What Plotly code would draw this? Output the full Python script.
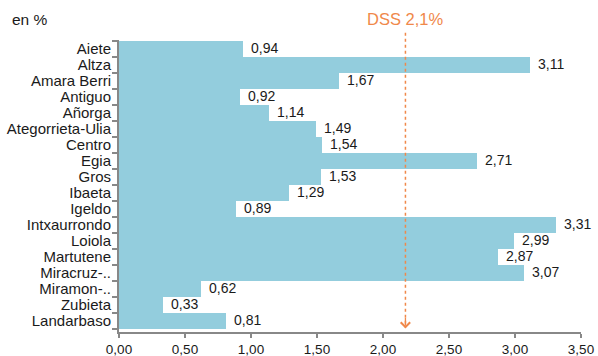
import plotly.graph_objects as go

# barrios and their values (en %)
barrios = ["Aiete", "Altza", "Amara Berri", "Antiguo", "Añorga", "Ategorrieta-Ulia",
           "Centro", "Egia", "Gros", "Ibaeta", "Igeldo", "Intxaurrondo", "Loiola",
           "Martutene", "Miracruz-..", "Miramon-..", "Zubieta", "Landarbaso"]
valores = [0.94, 3.11, 1.67, 0.92, 1.14, 1.49, 1.54, 2.71, 1.53, 1.29, 0.89,
           3.31, 2.99, 2.87, 3.07, 0.62, 0.33, 0.81]
dss = 2.17  # where the "DSS 2,1%" marker sits on the axis
x_ticks = [0, 0.5, 1, 1.5, 2, 2.5, 3, 3.5]

FONT = "Liberation Sans, Arial"
ORANGE = "#F0884A"

fig = go.Figure()
fig.add_trace(go.Bar(
    x=valores, y=barrios, orientation="h",
    marker=dict(color="#93CDDD", line=dict(width=0)),
    hoverinfo="x+y"
))

# value labels just right of each bar
for b, v in zip(barrios, valores):
    fig.add_annotation(
        x=v, y=b, xref="x", yref="y", xanchor="left", yanchor="middle",
        text=f"{v:.2f}".replace(".", ","), showarrow=False, xshift=6, yshift=1,
        font=dict(family=FONT, size=14, color="#1a1a1a")
    )

# DSS dotted line with arrow head at the bottom
fig.add_shape(type="line", xref="x", yref="paper", x0=dss, x1=dss, y0=1.025, y1=0.015,
              line=dict(color=ORANGE, width=1.5, dash="dot"))
fig.add_annotation(x=dss, y=0.012, xref="x", yref="paper", ax=0, ay=-12,
                   showarrow=True, arrowhead=4, arrowsize=1.4, arrowwidth=1.3,
                   arrowcolor=ORANGE, text="")
fig.add_annotation(x=dss, y=1.035, xref="x", yref="paper", yanchor="bottom",
                   text="DSS 2,1%", showarrow=False,
                   font=dict(family=FONT, size=16.5, color=ORANGE))
fig.add_annotation(x=0, y=1.035, xref="paper", yref="paper", xanchor="left", yanchor="bottom",
                   xshift=-109, text="en %", showarrow=False,
                   font=dict(family=FONT, size=15.5, color="#1a1a1a"))

fig.update_layout(
    width=598, height=356,
    margin=dict(l=119, r=17, t=40, b=24),
    paper_bgcolor="white", plot_bgcolor="white",
    bargap=0, showlegend=False,
    font=dict(family=FONT, size=14, color="#1a1a1a"),
    xaxis=dict(range=[0, 3.5], tickvals=x_ticks, automargin=False,
               ticktext=[f"{t:.2f}".replace(".", ",") for t in x_ticks],
               showgrid=False, zeroline=False, showline=True, linecolor="#888888",
               linewidth=2, ticks="outside", tickcolor="#888888", ticklen=4, tickwidth=1.5,
               tickfont=dict(size=13.5)),
    yaxis=dict(autorange="reversed", categoryorder="array", categoryarray=barrios,
               tickmode="array", tickvals=barrios, ticktext=barrios,
               automargin=False, ticklabelstandoff=3,
               showgrid=False, zeroline=False, showline=True, linecolor="#888888",
               linewidth=2, ticks="outside", tickson="boundaries", tickcolor="#888888",
               ticklen=5, tickwidth=1.5, tickfont=dict(size=15)),
)

# drop the default page margin so the figure fills the window exactly
fig.write_html("out.html", config={"displayModeBar": False},
               post_script="document.body.style.margin='0';document.body.style.overflow='hidden';")
